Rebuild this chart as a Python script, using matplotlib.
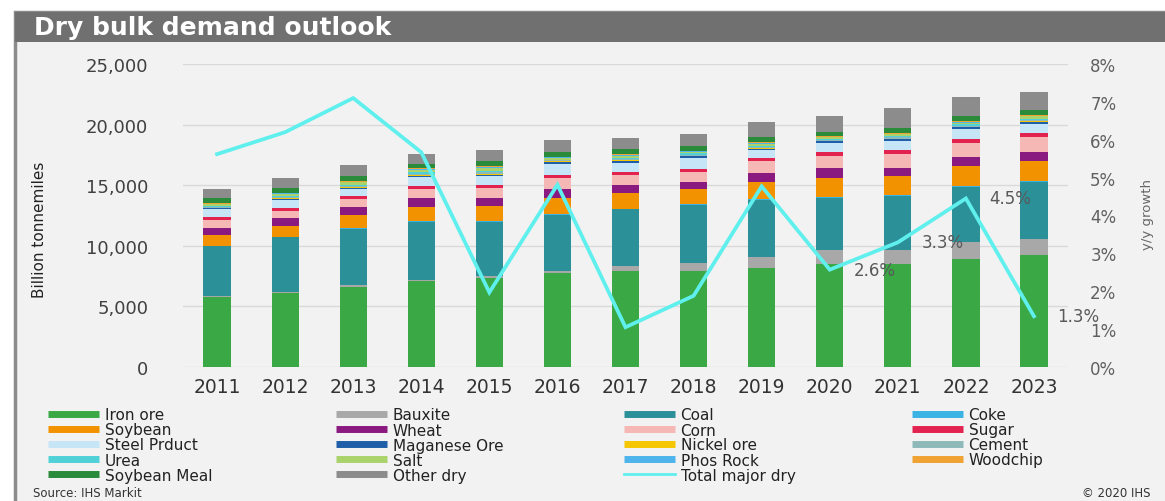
import matplotlib
matplotlib.use('Agg')
import matplotlib.pyplot as plt
from matplotlib.patches import Rectangle
from matplotlib.lines import Line2D
from matplotlib.ticker import FuncFormatter
import numpy as np

# ---------------- data ----------------
years = ['2011', '2012', '2013', '2014', '2015', '2016', '2017', '2018',
         '2019', '2020', '2021', '2022', '2023']

iron_ore     = [5800, 6130, 6620, 7070, 7320, 7730, 7900, 7950, 8140, 8500, 8500, 8910, 9260]
bauxite      = [80, 80, 140, 130, 210, 210, 470, 610, 960, 1160, 1180, 1380, 1300]
coal         = [4080, 4480, 4640, 4800, 4470, 4610, 4630, 4820, 4690, 4280, 4470, 4600, 4690]
coke         = [50, 60, 60, 70, 70, 70, 70, 70, 70, 70, 70, 70, 70]
soybean      = [910, 910, 1070, 1160, 1240, 1320, 1300, 1240, 1430, 1590, 1510, 1650, 1650]
wheat        = [550, 610, 640, 690, 630, 740, 630, 600, 690, 800, 690, 690, 740]
corn         = [690, 630, 690, 770, 800, 880, 830, 780, 990, 1040, 1180, 1180, 1290]
sugar        = [200, 200, 220, 220, 270, 270, 250, 270, 270, 280, 270, 330, 280]
steel        = [640, 660, 580, 750, 730, 900, 780, 880, 640, 740, 760, 790, 780]
manganese    = [100, 110, 110, 120, 120, 180, 160, 170, 140, 170, 160, 170, 160]
nickel       = [40, 50, 50, 60, 60, 50, 50, 50, 50, 50, 50, 50, 50]
cement       = [80, 100, 110, 110, 130, 80, 100, 90, 100, 80, 100, 90, 110]
urea         = [80, 100, 110, 120, 140, 80, 100, 90, 100, 80, 100, 100, 110]
salt         = [130, 170, 200, 190, 220, 140, 170, 150, 170, 120, 170, 160, 190]
phos_rock    = [40, 50, 60, 60, 70, 40, 50, 40, 50, 40, 50, 50, 55]
woodchip     = [40, 50, 60, 70, 70, 40, 50, 40, 50, 40, 50, 50, 55]
soybean_meal = [440, 390, 360, 360, 460, 410, 410, 410, 460, 330, 410, 410, 410]
other_dry    = [740, 800, 960, 830, 880, 970, 970, 970, 1190, 1370, 1670, 1620, 1460]

growth = [5.62, 6.20, 7.10, 5.67, 1.97, 4.81, 1.05, 1.88, 4.77, 2.57, 3.29, 4.45, 1.34]
growth_labels = {9: '2.6%', 10: '3.3%', 11: '4.5%', 12: '1.3%'}

series = [
    ('Iron ore', iron_ore, '#39a845'),
    ('Bauxite', bauxite, '#a8a8a8'),
    ('Coal', coal, '#2c9099'),
    ('Coke', coke, '#3bb3e4'),
    ('Soybean', soybean, '#f39200'),
    ('Wheat', wheat, '#8b1a80'),
    ('Corn', corn, '#f5b8b5'),
    ('Sugar', sugar, '#e2234f'),
    ('Steel Prduct', steel, '#c6e5f7'),
    ('Maganese Ore', manganese, '#1f5ea8'),
    ('Nickel ore', nickel, '#f6c700'),
    ('Cement', cement, '#8fb9b9'),
    ('Urea', urea, '#4fd1d7'),
    ('Salt', salt, '#aad36c'),
    ('Phos Rock', phos_rock, '#4fb3ec'),
    ('Woodchip', woodchip, '#f0a232'),
    ('Soybean Meal', soybean_meal, '#2a8b3a'),
    ('Other dry', other_dry, '#8c8c8c'),
]
line_name, line_color = 'Total major dry', '#5ff0ee'

# ---------------- figure ----------------
W, H = 1165, 502
fig = plt.figure(figsize=(W / 100, H / 100), dpi=100)
fig.patch.set_facecolor('white')
plt.rcParams['font.family'] = ['DejaVu Sans']

def fx(px):
    return px / W

def fy(py):
    return 1 - py / H

# panel background and title bar
fig.add_artist(Rectangle((fx(15), fy(510)), fx(1180) - fx(15), fy(13) - fy(510),
                         transform=fig.transFigure, facecolor='#f2f2f2',
                         edgecolor='#8c8c8c', lw=2.5, zorder=0))
fig.add_artist(Rectangle((fx(15), fy(43)), fx(1180) - fx(15), fy(13) - fy(43),
                         transform=fig.transFigure, facecolor='#707070',
                         edgecolor='none', zorder=1))
fig.text(fx(34), fy(28.5), 'Dry bulk demand outlook', color='white', fontsize=18,
         fontweight='bold', va='center', ha='left', zorder=2)

ax = fig.add_axes([fx(183), fy(368), fx(1068) - fx(183), fy(65) - fy(368)])
ax.set_facecolor('none')
x = np.arange(len(years))
bottom = np.zeros(len(years))
handles = {}
for name, vals, col in series:
    vals = np.array(vals, dtype=float)
    ax.bar(x, vals, 0.4, bottom=bottom, color=col, zorder=2, linewidth=0)
    bottom += vals
    handles[name] = Line2D([], [], color=col, lw=5, solid_capstyle='butt')

ax.set_xlim(-0.5, len(years) - 0.5)
ax.set_ylim(0, 25000)
ax.set_yticks(range(0, 25001, 5000))
ax.yaxis.set_major_formatter(FuncFormatter(lambda v, p: f'{int(v):,}'))
ax.set_xticks(x)
ax.set_xticklabels(years)
ax.yaxis.grid(True, color='#d9d9d9', lw=1)
ax.set_axisbelow(True)
for s in ax.spines.values():
    s.set_visible(False)
ax.tick_params(axis='y', length=0, pad=25, labelsize=13, labelcolor='#404040')
ax.tick_params(axis='x', length=0, pad=7, labelsize=13.5, labelcolor='#333333')

ax2 = ax.twinx()
ax2.plot(x, growth, color=line_color, lw=2.7, zorder=5, solid_joinstyle='miter')
ax2.set_ylim(0, 8)
ax2.set_yticks(range(0, 9))
ax2.yaxis.set_major_formatter(FuncFormatter(lambda v, p: f'{int(v)}%'))
for s in ax2.spines.values():
    s.set_visible(False)
ax2.tick_params(axis='y', length=0, pad=16, labelsize=12, labelcolor='#606060')
handles[line_name] = Line2D([], [], color=line_color, lw=2)

for i, lab in growth_labels.items():
    ax2.annotate(lab, (x[i], growth[i]), xytext=(17, 0), textcoords='offset points',
                 ha='left', va='center', fontsize=12, color='#595959', zorder=6)

fig.text(fx(40), fy(230), 'Billion tonnemiles', rotation=90, fontsize=11,
         va='center', ha='center', color='#222222')
fig.text(fx(1148), fy(215), 'y/y growth', rotation=90, fontsize=9.5,
         va='center', ha='center', color='#666666')

# legend, 4 columns in row-major reading order
names = [s[0] for s in series] + [line_name]
cols = [names[c::4] for c in range(4)]
col_x = [48, 336, 624, 912]
for cx, cnames in zip(col_x, cols):
    leg = fig.legend([handles[n] for n in cnames], cnames, loc='upper left',
                     bbox_to_anchor=(fx(cx), fy(408.5)), frameon=False,
                     fontsize=11, handlelength=3.35, handletextpad=0.35,
                     labelspacing=0.0, borderpad=0, borderaxespad=0)
    for t in leg.get_texts():
        t.set_color('#222222')

fig.text(fx(33), fy(494), 'Source: IHS Markit', fontsize=8.5, va='center',
         ha='left', color='#333333')
fig.text(fx(1150), fy(494), '\u00a9 2020 IHS', fontsize=8.5, va='center',
         ha='right', color='#333333')

fig.savefig('out.png', dpi=100, facecolor='white')
